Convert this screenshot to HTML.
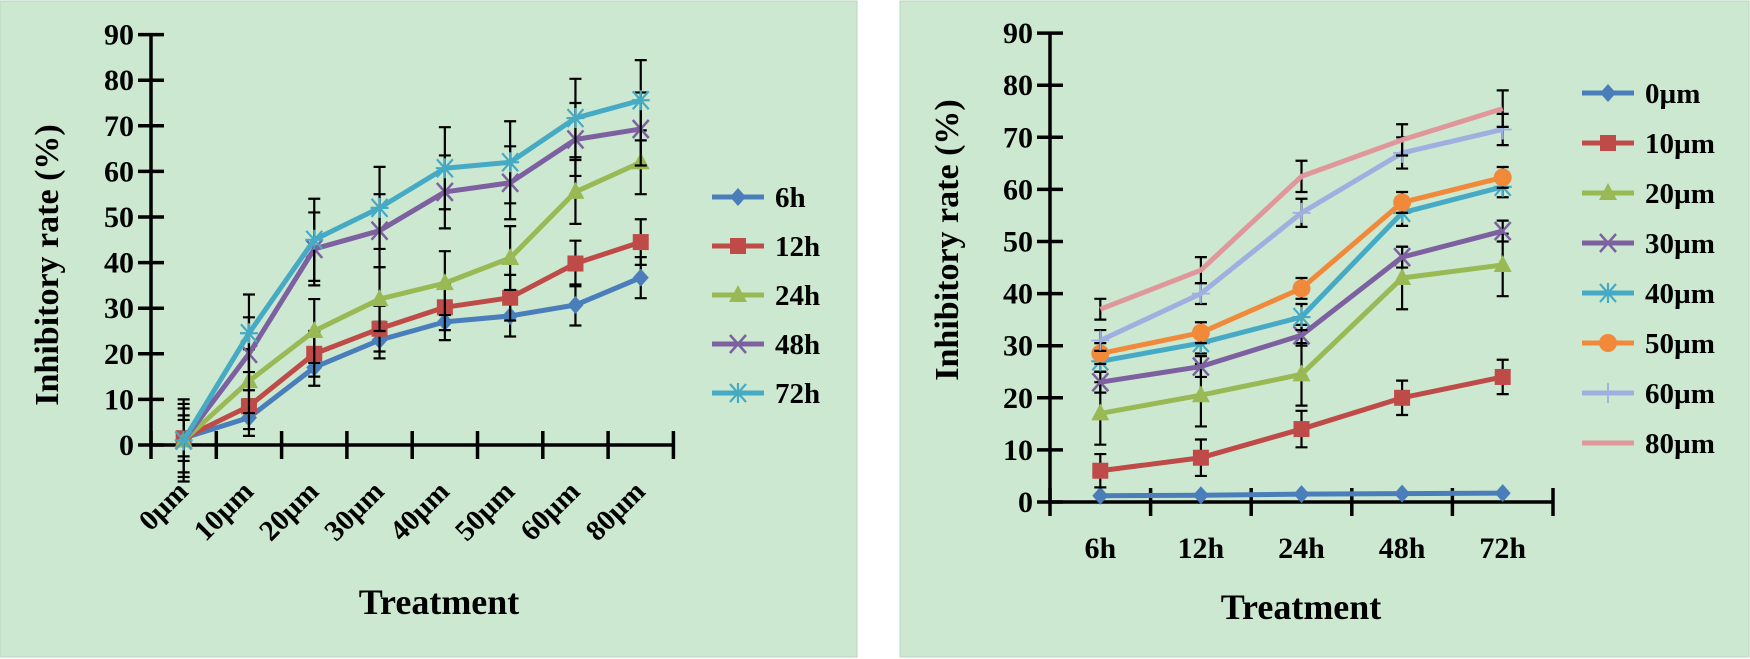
<!DOCTYPE html>
<html><head><meta charset="utf-8"><style>
html,body{margin:0;padding:0;background:#fff;}
svg{display:block;font-family:"Liberation Serif",serif;font-weight:bold;}
</style></head><body>
<svg id="chart" width="1750" height="659" viewBox="0 0 1750 659" xmlns="http://www.w3.org/2000/svg">
<rect x="0" y="1" width="857" height="656" fill="#cde8d0" stroke="#bcd6bf"/>
<rect x="900" y="1" width="849" height="656" fill="#cde8d0" stroke="#bcd6bf"/>
<g id="left"></g>
<g id="right"></g>
</svg>
<script>
// ---- Left chart data ----
const leftCategories = ["0µm","10µm","20µm","30µm","40µm","50µm","60µm","80µm"];
const leftSeriesNames = ["6h","12h","24h","48h","72h"];
const left6h  = [1.5, 6, 17, 23, 27, 28.3, 30.7, 36.7];
const left12h = [1.5, 8.5, 20, 25.5, 30.2, 32.3, 39.8, 44.5];
const left24h = [1, 14, 25, 32, 35.5, 41, 55.5, 62];
const left48h = [1, 20, 43, 47, 55.5, 57.5, 67, 69.3];
const left72h = [1, 24.5, 45, 52, 60.7, 62, 71.7, 75.6];
const leftErr6h  = [4, 4, 4, 4, 4, 4.5, 4.5, 4.5];
const leftErr12h = [5, 5, 5, 5, 5, 5, 5, 5];
const leftErr24h = [7, 7, 7, 7, 7, 7, 7, 7];
const leftErr48h = [8, 8, 8, 8, 8, 8, 8, 8];
const leftErr72h = [9, 8.5, 9, 9, 9, 9, 8.6, 8.8];
const yTicks = [0,10,20,30,40,50,60,70,80,90];
// ---- Right chart data ----
const rightCategories = ["6h","12h","24h","48h","72h"];
const rightSeriesNames = ["0µm","10µm","20µm","30µm","40µm","50µm","60µm","80µm"];
const right0  = [1.2, 1.3, 1.5, 1.6, 1.7];
const right10 = [6, 8.5, 14, 20, 24];
const right20 = [17, 20.5, 24.5, 43, 45.5];
const right30 = [23, 26, 32, 47, 52];
const right40 = [27, 30.5, 35.5, 55.5, 60.5];
const right50 = [28.5, 32.5, 41, 57.5, 62.3];
const right60 = [31, 40, 55.5, 67, 71.5];
const right80 = [37, 44.5, 62.5, 69.5, 75.5];
const rightErr0  = [0, 0, 0, 0, 0];
const rightErr10 = [3.2, 3.5, 3.5, 3.3, 3.3];
const rightErr20 = [6, 6, 6, 6, 6];
const rightErr30 = [2, 2, 2, 2, 2];
const rightErr40 = [2, 2, 2.5, 2.5, 2];
const rightErr50 = [2, 2, 2, 2, 2];
const rightErr60 = [2, 2, 2.7, 3, 3];
const rightErr80 = [2, 2.5, 3, 3, 3.5];

const NS = "http://www.w3.org/2000/svg";
function mk(tag, attrs, parent){const e=document.createElementNS(NS,tag);for(const k in attrs)e.setAttribute(k,attrs[k]);parent.appendChild(e);return e;}

function marker(g, type, x, y, color){
  let m;
  if(type==="diamond"){m=mk("polygon",{points:`${x},${y-9} ${x+8},${y} ${x},${y+9} ${x-8},${y}`,fill:color},g);}
  else if(type==="square"){m=mk("rect",{x:x-8,y:y-8,width:16,height:16,fill:color},g);}
  else if(type==="triangle"){m=mk("polygon",{points:`${x},${y-10} ${x+9},${y+7} ${x-9},${y+7}`,fill:color},g);}
  else if(type==="x"){m=mk("path",{d:`M${x-8},${y-9}L${x+8},${y+9}M${x+8},${y-9}L${x-8},${y+9}`,stroke:color,"stroke-width":2.5,fill:"none"},g);}
  else if(type==="star"){m=mk("path",{d:`M${x-8},${y-9}L${x+8},${y+9}M${x+8},${y-9}L${x-8},${y+9}M${x},${y-10}L${x},${y+10}M${x-9},${y}L${x+9},${y}`,stroke:color,"stroke-width":2.2,fill:"none"},g);}
  else if(type==="circle"){m=mk("circle",{cx:x,cy:y,r:9,fill:color},g);}
  else if(type==="plus"){m=mk("path",{d:`M${x},${y-10}L${x},${y+10}M${x-9},${y}L${x+9},${y}`,stroke:color,"stroke-width":1.8,fill:"none"},g);}
  if(m){}
}

function drawChart(g, cfg){
  const yv = v => cfg.y0 - v*cfg.yPer;
  const xc = i => cfg.x0 + cfg.step*(i+0.5);
  const ax = mk("path",{d:`M${cfg.x0},${yv(90)}L${cfg.x0},${cfg.y0}L${cfg.x0+cfg.step*cfg.cats.length},${cfg.y0}`,stroke:"#000","stroke-width":3.5,fill:"none"},g);
  
  
  yTicks.forEach(t=>{
    mk("line",{x1:cfg.x0-13,x2:cfg.x0+13,y1:yv(t),y2:yv(t),stroke:"#000","stroke-width":3.5},g);
    const tl = mk("text",{x:cfg.x0-17,y:yv(t)+10,"text-anchor":"end","font-size":30},g);
    tl.textContent=t;
    
    
  });
  for(let i=0;i<=cfg.cats.length;i++){
    mk("line",{x1:cfg.x0+cfg.step*i,x2:cfg.x0+cfg.step*i,y1:cfg.y0-14,y2:cfg.y0+14,stroke:"#000","stroke-width":3.5},g);
  }
  cfg.cats.forEach((c,i)=>{
    let t;
    if(cfg.rotate){
      const x=xc(i)+6, y=cfg.labelY;
      t=mk("text",{x:x,y:y,"text-anchor":"end","font-size":29,transform:`rotate(-45 ${x} ${y})`},g);
    } else {
      t=mk("text",{x:xc(i),y:cfg.labelY,"text-anchor":"middle","font-size":30},g);
    }
    t.textContent=c;
    
    
  });
  const xt=mk("text",{x:cfg.titleX,y:cfg.titleY,"text-anchor":"middle","font-size":36},g);
  xt.textContent="Treatment";
  
  
  const yt=mk("text",{x:0,y:0,"text-anchor":"middle","font-size":34,transform:`translate(${cfg.ytX},${cfg.ytY}) rotate(-90)`},g);
  yt.textContent="Inhibitory rate (%)";
  
  
  cfg.series.forEach((s,si)=>{
    const sg=mk("g",{},g);
    
    
    s.vals.forEach((v,i)=>{
      const e=s.err[i]; if(!e) return;
      const x=xc(i);
      mk("path",{d:`M${x},${yv(v+e)}L${x},${yv(v-e)}M${x-6},${yv(v+e)}L${x+6},${yv(v+e)}M${x-6},${yv(v-e)}L${x+6},${yv(v-e)}`,stroke:"#000","stroke-width":2.2,fill:"none"},sg);
    });
    const pts=s.vals.map((v,i)=>`${xc(i)},${yv(v)}`).join(" ");
    const pl=mk("polyline",{points:pts,fill:"none",stroke:s.color,"stroke-width":5,"stroke-linejoin":"round"},sg);
    
    
    s.vals.forEach((v,i)=>marker(sg,s.marker,xc(i),yv(v),s.color));
    const ly=cfg.legY+cfg.legStep*si;
    const lg=mk("g",{},g);
    
    
    mk("line",{x1:cfg.legX,x2:cfg.legX+52,y1:ly,y2:ly,stroke:s.color,"stroke-width":5},lg);
    marker(lg,s.marker,cfg.legX+26,ly,s.color);
    const lt=mk("text",{x:cfg.legX+63,y:ly+10,"font-size":29},lg);
    lt.textContent=s.name;
  });
}

const C={blue:"#4a7ebb",red:"#be4b48",green:"#98b954",purple:"#7d60a0",cyan:"#46aac5",orange:"#f08a3a",lblue:"#9eafe0",pink:"#e0979b"};
drawChart(document.getElementById("left"),{
  x0:151, step:65.3, y0:445, yPer:4.56, cats:leftCategories, rotate:true, labelY:493,
  titleX:439, titleY:614, ytX:58, ytY:265, legX:712, legY:197, legStep:49,
  series:[
    {name:leftSeriesNames[0],vals:left6h,err:leftErr6h,color:C.blue,marker:"diamond"},
    {name:leftSeriesNames[1],vals:left12h,err:leftErr12h,color:C.red,marker:"square"},
    {name:leftSeriesNames[2],vals:left24h,err:leftErr24h,color:C.green,marker:"triangle"},
    {name:leftSeriesNames[3],vals:left48h,err:leftErr48h,color:C.purple,marker:"x"},
    {name:leftSeriesNames[4],vals:left72h,err:leftErr72h,color:C.cyan,marker:"star"}
  ]});
drawChart(document.getElementById("right"),{
  x0:1050, step:100.6, y0:502, yPer:5.21, cats:rightCategories, rotate:false, labelY:558,
  titleX:1301, titleY:619, ytX:958, ytY:240, legX:1582, legY:93, legStep:50,
  series:[
    {name:rightSeriesNames[0],vals:right0,err:rightErr0,color:C.blue,marker:"diamond"},
    {name:rightSeriesNames[1],vals:right10,err:rightErr10,color:C.red,marker:"square"},
    {name:rightSeriesNames[2],vals:right20,err:rightErr20,color:C.green,marker:"triangle"},
    {name:rightSeriesNames[3],vals:right30,err:rightErr30,color:C.purple,marker:"x"},
    {name:rightSeriesNames[4],vals:right40,err:rightErr40,color:C.cyan,marker:"star"},
    {name:rightSeriesNames[5],vals:right50,err:rightErr50,color:C.orange,marker:"circle"},
    {name:rightSeriesNames[6],vals:right60,err:rightErr60,color:C.lblue,marker:"plus"},
    {name:rightSeriesNames[7],vals:right80,err:rightErr80,color:C.pink,marker:"none"}
  ]});
</script>
</body></html>
